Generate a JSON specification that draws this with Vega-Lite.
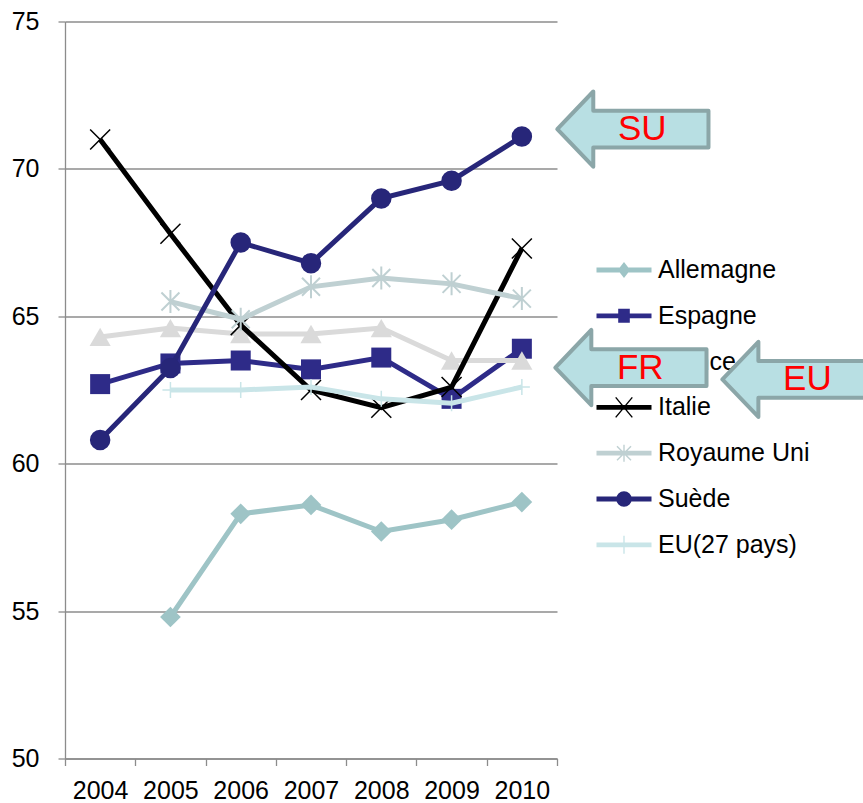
{
  "$schema": "https://vega.github.io/schema/vega-lite/v6.json",
  "padding": {"left": 11, "top": 9.5, "right": 0, "bottom": 0},
  "background": "white",
  "bounds": "flush",
  "spacing": 0,
  "resolve": {"scale": {"color": "independent", "shape": "independent"}, "legend": {"color": "independent", "shape": "independent"}},
  "config": {
    "font": "Liberation Sans",
    "view": {"stroke": null},
    "axis": {"domainColor": "#8c8c8c", "tickColor": "#8c8c8c", "gridColor": "#8c8c8c", "domainWidth": 1.3, "tickWidth": 1.3, "gridWidth": 1.3, "labelColor": "#000000", "labelFont": "Liberation Sans", "labelFontSize": 25, "tickSize": 7}
  },
  "hconcat": [
    {
      "width": 492,
      "height": 737,
      "data": {
        "values": [
          {"year": 2005, "country": "Allemagne", "value": 54.8},
          {"year": 2006, "country": "Allemagne", "value": 58.3},
          {"year": 2007, "country": "Allemagne", "value": 58.6},
          {"year": 2008, "country": "Allemagne", "value": 57.7},
          {"year": 2009, "country": "Allemagne", "value": 58.1},
          {"year": 2010, "country": "Allemagne", "value": 58.7},
          {"year": 2004, "country": "Espagne", "value": 62.7},
          {"year": 2005, "country": "Espagne", "value": 63.4},
          {"year": 2006, "country": "Espagne", "value": 63.5},
          {"year": 2007, "country": "Espagne", "value": 63.2},
          {"year": 2008, "country": "Espagne", "value": 63.6},
          {"year": 2009, "country": "Espagne", "value": 62.2},
          {"year": 2010, "country": "Espagne", "value": 63.9},
          {"year": 2004, "country": "France", "value": 64.3},
          {"year": 2005, "country": "France", "value": 64.6},
          {"year": 2006, "country": "France", "value": 64.4},
          {"year": 2007, "country": "France", "value": 64.4},
          {"year": 2008, "country": "France", "value": 64.6},
          {"year": 2009, "country": "France", "value": 63.5},
          {"year": 2010, "country": "France", "value": 63.5},
          {"year": 2004, "country": "Italie", "value": 71.0},
          {"year": 2005, "country": "Italie", "value": 67.8},
          {"year": 2006, "country": "Italie", "value": 64.7},
          {"year": 2007, "country": "Italie", "value": 62.5},
          {"year": 2008, "country": "Italie", "value": 61.9},
          {"year": 2009, "country": "Italie", "value": 62.6},
          {"year": 2010, "country": "Italie", "value": 67.3},
          {"year": 2005, "country": "Royaume Uni", "value": 65.5},
          {"year": 2006, "country": "Royaume Uni", "value": 64.9},
          {"year": 2007, "country": "Royaume Uni", "value": 66.0},
          {"year": 2008, "country": "Royaume Uni", "value": 66.3},
          {"year": 2009, "country": "Royaume Uni", "value": 66.1},
          {"year": 2010, "country": "Royaume Uni", "value": 65.6},
          {"year": 2004, "country": "Suède", "value": 60.8},
          {"year": 2005, "country": "Suède", "value": 63.25},
          {"year": 2006, "country": "Suède", "value": 67.5},
          {"year": 2007, "country": "Suède", "value": 66.8},
          {"year": 2008, "country": "Suède", "value": 69.0},
          {"year": 2009, "country": "Suède", "value": 69.6},
          {"year": 2010, "country": "Suède", "value": 71.1},
          {"year": 2005, "country": "EU(27 pays)", "value": 62.5},
          {"year": 2006, "country": "EU(27 pays)", "value": 62.5},
          {"year": 2007, "country": "EU(27 pays)", "value": 62.6},
          {"year": 2008, "country": "EU(27 pays)", "value": 62.2},
          {"year": 2009, "country": "EU(27 pays)", "value": 62.05},
          {"year": 2010, "country": "EU(27 pays)", "value": 62.6}
        ]
      },
      "encoding": {
        "x": {
          "field": "year", "type": "quantitative",
          "scale": {"domain": [2003.5, 2010.5], "nice": false, "zero": false},
          "axis": {"title": null, "grid": false, "values": [2003.5, 2004.5, 2005.5, 2006.5, 2007.5, 2008.5, 2009.5, 2010.5], "labelExpr": "datum.value < 2010 ? toString(datum.value + 0.5) : ''", "labelOffset": 35.1, "labelFlush": false, "labelOverlap": false, "labelBound": false, "labelAlign": "center", "labelPadding": 13}
        },
        "y": {
          "field": "value", "type": "quantitative",
          "scale": {"domain": [50, 75], "nice": false, "zero": false},
          "axis": {"title": null, "grid": true, "values": [50, 55, 60, 65, 70, 75], "labelPadding": 19}
        }
      },
      "layer": [
        {"transform": [{"filter": "datum.country === 'Allemagne'"}], "layer": [
          {"mark": {"type": "line", "color": "#9ec4c6", "strokeWidth": 5}, "encoding": {}},
          {"mark": {"type": "point", "shape": "diamond", "filled": true, "size": 430, "color": "#9ec4c6", "opacity": 1}, "encoding": {}}
        ]},
        {"transform": [{"filter": "datum.country === 'Espagne'"}], "layer": [
          {"mark": {"type": "line", "color": "#2e2b88", "strokeWidth": 5}, "encoding": {}},
          {"mark": {"type": "point", "shape": "square", "filled": true, "size": 400, "color": "#2e2b88", "opacity": 1}, "encoding": {}}
        ]},
        {"transform": [{"filter": "datum.country === 'France'"}], "layer": [
          {"mark": {"type": "line", "color": "#dadada", "strokeWidth": 5}, "encoding": {}},
          {"mark": {"type": "point", "shape": "triangle-up", "filled": true, "size": 450, "color": "#dadada", "opacity": 1}, "encoding": {}}
        ]},
        {"transform": [{"filter": "datum.country === 'Italie'"}], "layer": [
          {"mark": {"type": "line", "color": "#000000", "strokeWidth": 5}, "encoding": {}},
          {"mark": {"type": "point", "shape": "M-1,-1L1,1M-1,1L1,-1", "filled": false, "size": 400, "color": "#000000", "strokeWidth": 1.5, "opacity": 1}, "encoding": {}}
        ]},
        {"transform": [{"filter": "datum.country === 'Royaume Uni'"}], "layer": [
          {"mark": {"type": "line", "color": "#bfd0d2", "strokeWidth": 5}, "encoding": {}},
          {"mark": {"type": "point", "shape": "M-0.9,-0.9L0.9,0.9M-0.9,0.9L0.9,-0.9M0,-1.15L0,1.15", "filled": false, "size": 400, "color": "#bfd0d2", "strokeWidth": 2, "opacity": 1}, "encoding": {}}
        ]},
        {"transform": [{"filter": "datum.country === 'Suède'"}], "layer": [
          {"mark": {"type": "line", "color": "#272679", "strokeWidth": 5}, "encoding": {}},
          {"mark": {"type": "point", "shape": "circle", "filled": true, "size": 420, "color": "#272679", "opacity": 1}, "encoding": {}}
        ]},
        {"transform": [{"filter": "datum.country === 'EU(27 pays)'"}], "layer": [
          {"mark": {"type": "line", "color": "#c9e5e8", "strokeWidth": 5}, "encoding": {}},
          {"mark": {"type": "point", "shape": "M-1,0L1,0M0,-1L0,1", "filled": false, "size": 256, "color": "#c9e5e8", "strokeWidth": 1.5, "opacity": 1}, "encoding": {}}
        ]},
        {
          "transform": [{"filter": "false"}],
          "mark": {"type": "point", "filled": true, "opacity": 1},
          "encoding": {
            "color": {
              "field": "country", "type": "nominal",
              "scale": {"domain": ["Allemagne", "Espagne", "France", "Italie", "Royaume Uni", "Suède", "EU(27 pays)"], "range": ["#9ec4c6", "#2e2b88", "#dadada", "#000000", "#bfd0d2", "#272679", "#c9e5e8"]},
              "legend": {"orient": "none", "legendX": 546.5, "legendY": 236, "title": null, "padding": 0, "symbolSize": 400, "symbolStrokeWidth": 0, "labelFont": "Liberation Sans", "labelFontSize": 25, "labelColor": "#000000", "labelOffset": 21.5, "rowPadding": 19.8, "labelLimit": 300}
            },
            "shape": {
              "field": "country", "type": "nominal",
              "scale": {"domain": ["Allemagne", "Espagne", "France", "Italie", "Royaume Uni", "Suède", "EU(27 pays)"], "range": [
                "M-2.75,-0.24L2.75,-0.24L2.75,0.24L-2.75,0.24ZM0,-0.8L0.62,0L0,0.8L-0.62,0Z",
                "M-2.75,-0.24L2.75,-0.24L2.75,0.24L-2.75,0.24ZM-0.58,-0.7L0.58,-0.7L0.58,0.7L-0.58,0.7Z",
                "M-2.75,-0.24L2.75,-0.24L2.75,0.24L-2.75,0.24ZM0,-0.85L0.75,0.6L-0.75,0.6Z",
                "M-2.75,-0.24L2.75,-0.24L2.75,0.24L-2.75,0.24ZM-0.776,-1.045L0.884,0.955L0.776,1.045L-0.884,-0.955ZM0.884,-0.955L-0.776,1.045L-0.884,0.955L0.776,-1.045Z",
                "M-2.75,-0.24L2.75,-0.24L2.75,0.24L-2.75,0.24ZM-0.65,-0.75L0.75,0.65L0.65,0.75L-0.75,-0.65ZM0.75,-0.65L-0.65,0.75L-0.75,0.65L0.65,-0.75ZM-0.07,-0.85L0.07,-0.85L0.07,0.85L-0.07,0.85Z",
                "M-2.75,-0.24L2.75,-0.24L2.75,0.24L-2.75,0.24ZM0.78,0L0.721,0.298L0.552,0.552L0.298,0.721L0,0.78L-0.298,0.721L-0.552,0.552L-0.721,0.298L-0.78,0L-0.721,-0.298L-0.552,-0.552L-0.298,-0.721L0,-0.78L0.298,-0.721L0.552,-0.552L0.721,-0.298Z",
                "M-2.75,-0.24L2.75,-0.24L2.75,0.24L-2.75,0.24ZM-0.07,-0.9L0.07,-0.9L0.07,0.9L-0.07,0.9Z"
              ]},
              "legend": {"orient": "none", "legendX": 546.5, "legendY": 236, "title": null, "padding": 0, "symbolSize": 400, "symbolStrokeWidth": 0, "labelFont": "Liberation Sans", "labelFontSize": 25, "labelColor": "#000000", "labelOffset": 21.5, "rowPadding": 19.8, "labelLimit": 300}
            }
          }
        }
      ]
    },
    {
      "width": 492,
      "height": 737,
      "data": {"values": [
        {"label": "SU", "x": 2010.504, "y": 71.35},
        {"label": "FR", "x": 2010.476, "y": 63.26},
        {"label": "EU", "x": 2012.853, "y": 62.86}
      ]},
      "encoding": {
        "x": {"field": "x", "type": "quantitative", "scale": {"domain": [2010.5, 2017.5], "nice": false, "zero": false}, "axis": null},
        "y": {"field": "y", "type": "quantitative", "scale": {"domain": [50, 75], "nice": false, "zero": false}, "axis": null}
      },
      "layer": [
        {
          "mark": {"type": "point", "shape": "M0,0L0.9,-0.94L0.9,-0.46L3.78,-0.46L3.78,0.46L0.9,0.46L0.9,0.94Z", "size": 6400, "filled": true, "fill": "#b8dfe3", "stroke": "#8ba6a8", "strokeWidth": 4, "strokeJoin": "round", "opacity": 1}
        },
        {
          "mark": {"type": "text", "color": "#ff0000", "font": "Liberation Sans", "fontSize": 35, "align": "center", "baseline": "middle", "dx": 85},
          "encoding": {"text": {"field": "label", "type": "nominal"}}
        }
      ]
    }
  ]
}
